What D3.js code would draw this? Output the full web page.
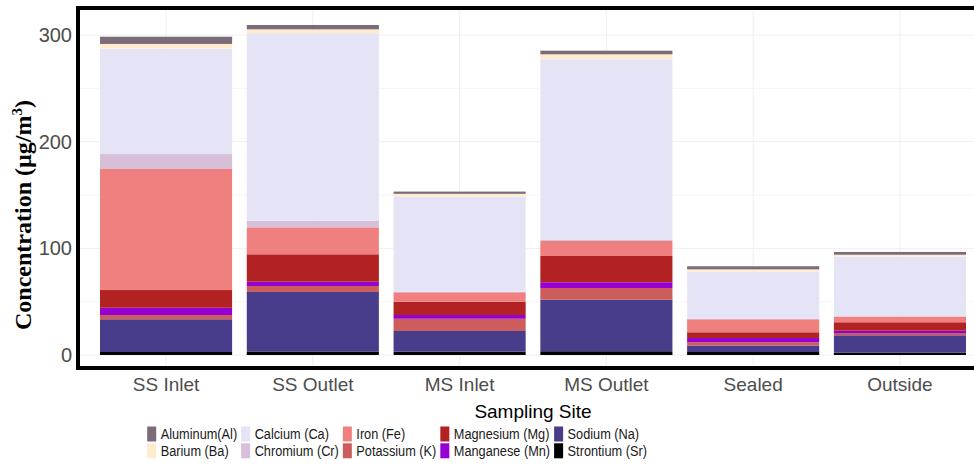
<!DOCTYPE html>
<html>
<head>
<meta charset="utf-8">
<script src="https://cdn.jsdelivr.net/npm/d3@7"></script>
<style>
  body { margin: 0; background: #fff; }
  svg { display: block; font-family: "Liberation Sans", Arial, sans-serif; }
</style>
</head>
<body>
<div id="vis"></div>
<script>
// sampling sites (x categories)
const sites = ["SS Inlet", "SS Outlet", "MS Inlet", "MS Outlet", "Sealed", "Outside"];

// concentrations per element, one value per site (ug/m3)
const aluminum  = [6.8, 4.1, 2.1, 3.4, 2.9, 2.6];
const barium    = [4.4, 3.7, 2.5, 4.7, 2.2, 1.8];
const calcium   = [98.8, 175.7, 89.3, 169.3, 44.1, 55.8];
const chromium  = [14.0, 6.2, 0.5, 1.0, 0.5, 0.5];
const iron      = [113.5, 25.3, 8.8, 14.1, 12.2, 5.2];
const magnesium = [16.6, 25.7, 12.5, 24.6, 5.4, 7.9];
const manganese = [6.8, 4.0, 3.5, 5.4, 4.0, 2.2];
const potassium = [4.0, 5.6, 11.5, 11.0, 3.2, 2.1];
const sodium    = [30.7, 55.8, 19.4, 48.3, 5.9, 16.3];
const strontium = [2.8, 3.3, 3.1, 3.5, 2.8, 2.2];

// legend order (column-major, 2 rows)
const legendLabels = ["Aluminum(Al)", "Barium (Ba)", "Calcium (Ca)", "Chromium (Cr)", "Iron (Fe)",
    "Potassium (K)", "Magnesium (Mg)", "Manganese (Mn)", "Sodium (Na)", "Strontium (Sr)"];
// stacking order, bottom to top
const stackOrder = ["Strontium (Sr)", "Sodium (Na)", "Potassium (K)", "Manganese (Mn)", "Magnesium (Mg)",
    "Iron (Fe)", "Chromium (Cr)", "Calcium (Ca)", "Barium (Ba)", "Aluminum(Al)"];
const yTicks = [0, 100, 200, 300];

const values = {
    "Aluminum(Al)": aluminum, "Barium (Ba)": barium, "Calcium (Ca)": calcium,
    "Chromium (Cr)": chromium, "Iron (Fe)": iron, "Potassium (K)": potassium,
    "Magnesium (Mg)": magnesium, "Manganese (Mn)": manganese, "Sodium (Na)": sodium,
    "Strontium (Sr)": strontium
};

const color = d3.scaleOrdinal()
    .domain(legendLabels)
    .range(["#7b6c7b", "#ffebcd", "#e4e4f6", "#d8bfd8", "#f08080",
            "#cd5c5c", "#b22222", "#9400d3", "#483d8b", "#000000"]);

const width = 974, height = 468;
const panel = { left: 78, top: 8, right: 988, bottom: 368 };

const table = sites.map((s, i) => {
    const row = { site: s };
    legendLabels.forEach(k => row[k] = values[k][i]);
    return row;
});

const series = d3.stack().keys(stackOrder)(table);

const x = d3.scaleBand()
    .domain(sites)
    .range([panel.left, panel.right])
    .paddingInner(0.1)
    .paddingOuter(0.15);

const y = d3.scaleLinear()
    .domain([0, 300])
    .range([355, 35]);

const svg = d3.select("#vis").append("svg")
    .attr("width", width)
    .attr("height", height);

svg.append("rect").attr("width", width).attr("height", height).attr("fill", "#fff");

// grid
const grid = svg.append("g");
grid.selectAll(".minor")
    .data([50, 150, 250])
    .join("line")
    .attr("x1", panel.left).attr("x2", panel.right)
    .attr("y1", d => y(d)).attr("y2", d => y(d))
    .attr("stroke", "#f6f6f6");
grid.selectAll(".major")
    .data(yTicks)
    .join("line")
    .attr("x1", panel.left).attr("x2", panel.right)
    .attr("y1", d => y(d)).attr("y2", d => y(d))
    .attr("stroke", "#efefef");
grid.selectAll(".vgrid")
    .data(sites)
    .join("line")
    .attr("x1", d => x(d) + x.bandwidth() / 2).attr("x2", d => x(d) + x.bandwidth() / 2)
    .attr("y1", panel.top).attr("y2", panel.bottom)
    .attr("stroke", "#efefef");

// bars
svg.append("g")
    .selectAll("g")
    .data(series)
    .join("g")
    .attr("fill", d => color(d.key))
    .selectAll("rect")
    .data(d => d)
    .join("rect")
    .attr("x", d => x(d.data.site))
    .attr("width", x.bandwidth())
    .attr("y", d => y(d[1]))
    .attr("height", d => y(d[0]) - y(d[1]));

// panel border
svg.append("rect")
    .attr("x", panel.left)
    .attr("y", panel.top)
    .attr("width", panel.right - panel.left)
    .attr("height", panel.bottom - panel.top)
    .attr("fill", "none")
    .attr("stroke", "#000")
    .attr("stroke-width", 4);

// axes
const yAxis = svg.append("g")
    .attr("transform", "translate(76,0)")
    .call(d3.axisLeft(y).tickValues(yTicks).tickSize(0).tickPadding(4));
yAxis.select(".domain").remove();
yAxis.selectAll("text")
    .attr("font-family", "Liberation Sans, Arial, sans-serif")
    .attr("font-size", 20)
    .attr("fill", "#4d4d4d");

const xAxis = svg.append("g")
    .attr("transform", "translate(0,370)")
    .call(d3.axisBottom(x).tickSize(0).tickPadding(7.5));
xAxis.select(".domain").remove();
xAxis.selectAll("text")
    .attr("font-family", "Liberation Sans, Arial, sans-serif")
    .attr("font-size", 19)
    .attr("fill", "#4d4d4d");

svg.append("text")
    .attr("x", (panel.left + panel.right) / 2)
    .attr("y", 418)
    .attr("text-anchor", "middle")
    .attr("font-size", 19)
    .attr("fill", "#000")
    .text("Sampling Site");

const yTitle = svg.append("text")
    .attr("transform", "translate(31,215) rotate(-90)")
    .attr("text-anchor", "middle")
    .attr("font-family", "Liberation Serif, Times New Roman, serif")
    .attr("font-weight", "bold")
    .attr("font-size", 24)
    .attr("fill", "#000");
yTitle.append("tspan").text("Concentration (µg/m");
yTitle.append("tspan").attr("font-size", 15).attr("dy", -9).text("3");
yTitle.append("tspan").attr("dy", 9).text(")");

// legend: 2 rows, column-major
const legend = svg.append("g");
const squeeze = 0.85;
const rows = [434, 450.8];
let textX = 160.7;
for (let c = 0; c < legendLabels.length / 2; c++) {
    const items = legendLabels.slice(c * 2, c * 2 + 2);
    let maxW = 0;
    items.forEach((lab, r) => {
        legend.append("rect")
            .attr("x", textX - 13.5)
            .attr("y", rows[r] - 7.5)
            .attr("width", 9)
            .attr("height", 15)
            .attr("fill", color(lab));
        const t = legend.append("text")
            .attr("transform", `translate(${textX},${rows[r] + 5.4}) scale(${squeeze},1)`)
            .attr("font-size", 15)
            .attr("fill", "#1a1a1a")
            .text(lab);
        maxW = Math.max(maxW, t.node().getComputedTextLength() * squeeze);
    });
    textX += maxW + 17.5;
}
</script>
</body>
</html>
